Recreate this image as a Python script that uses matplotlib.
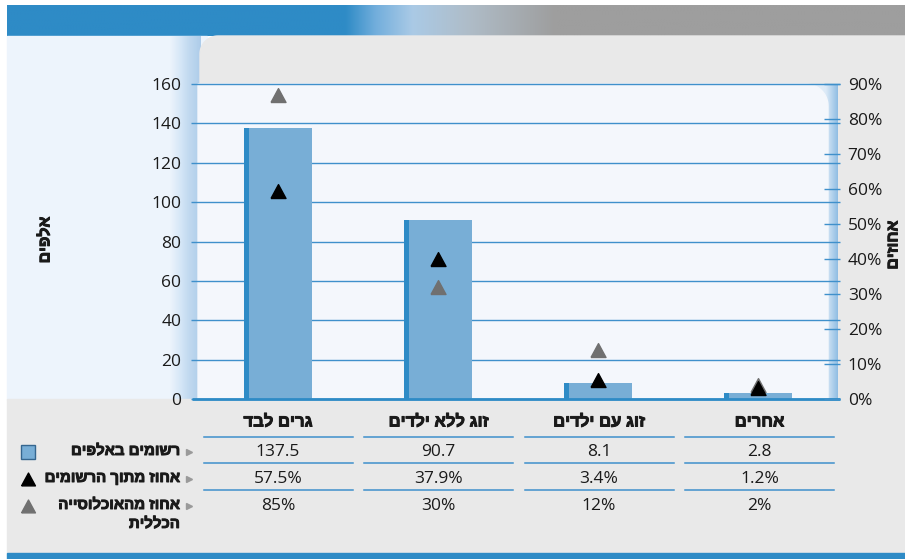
import numpy as np
import matplotlib.pyplot as plt
import matplotlib.patheffects as pe
from matplotlib.patches import Rectangle, Polygon
from matplotlib.colors import to_rgb

# data
categories = ["גרים לבד", "זוג ללא ילדים", "זוג עם ילדים", "אחרים"]
registered_k = [137.5, 90.7, 8.1, 2.8]          # bars, thousands
pct_of_registered = [57.5, 37.9, 3.4, 1.2]      # black triangles, %
pct_of_population = [85, 30, 12, 2]             # grey triangles, %
row_labels = ["רשומים באלפים", "אחוז מתוך הרשומים", "אחוז מהאוכלוסייה\nהכללית"]
left_ticks = [0, 20, 40, 60, 80, 100, 120, 140, 160]
right_ticks = [0, 10, 20, 30, 40, 50, 60, 70, 80, 90]
left_title = "אלפים"
right_title = "אחוזים"

BLUE = "#2E8BC6"
BAR = "#78AED6"
GRID = "#3F90CB"
GREY_TRI = "#707070"
TXT = "#1A1A1A"
NUM_FONT = ["Open Sans", "DejaVu Sans"]
HEB_FONT = ["Liberation Sans", "DejaVu Sans"]
BOLDER = [pe.withStroke(linewidth=0.7, foreground=TXT)]

# triangle whose base sits on the value
TRI_UP = [(-1, 0), (1, 0), (0, 1.85), (-1, 0)]
TRI_MID = [(-1, -0.92), (1, -0.92), (0, 0.93), (-1, -0.92)]


def heb(s):
    # matplotlib has no bidi, so flip each line to visual order
    return "\n".join(line[::-1] for line in s.split("\n"))


def hgrad(ax, x0, x1, y0, y1, stops, z):
    xs = np.linspace(x0, x1, 300)
    pos = [s[0] for s in stops]
    cols = np.array([np.interp(xs, pos, [to_rgb(s[1])[k] for s in stops]) for k in range(3)]).T
    ax.imshow(cols[None, :, :], extent=(x0, x1, y1, y0), aspect="auto",
              interpolation="bilinear", zorder=z)


fig = plt.figure(figsize=(9.05, 5.59), dpi=100)

# ---- background, in pixel coords ----
bg = fig.add_axes([0, 0, 1, 1], zorder=0)
bg.axis("off")

# header band
hgrad(bg, 7, 905, 5, 36, [(7, BLUE), (345, BLUE), (375, "#72AEDC"), (412, "#AACAE6"),
                          (470, "#AFBCC7"), (555, "#9E9E9E"), (905, "#9E9E9E")], 1)
# left light blue area and left wall
bg.add_patch(Rectangle((7, 36), 200, 364, color="#EDF4FC", zorder=1))
hgrad(bg, 170, 200, 36, 399, [(170, "#EDF4FC"), (180, "#D6E7F7"), (188, "#C2DAF0"),
                              (200, "#ADCCE9")], 2)
# grey panel with rounded top-left corner
r = 18
t = np.linspace(0, np.pi / 2, 20)
cx, cy = 200 + r, 36 + r
arc = np.column_stack([cx - r * np.cos(t), cy - r * np.sin(t)])
panel = np.vstack([[[200, 420]], arc, [[905, 36], [905, 420]]])
bg.add_patch(Polygon(panel, closed=True, color="#E9E9E9", zorder=3))
# table area and bottom band
bg.add_patch(Rectangle((7, 399), 898, 154, color="#E9E9E9", zorder=3))
bg.add_patch(Rectangle((7, 553), 898, 6, color=BLUE, zorder=3))

# inner plot area: right wall gradient + light panel with rounded top-right corner
hgrad(bg, 800, 838, 84, 399, [(800, "#F4F7FC"), (826, "#DCEAF7"), (838, "#8FBDE3")], 4)
r2 = 22
cx2, cy2 = 828 - r2, 84 + r2
arc2 = np.column_stack([cx2 + r2 * np.cos(t[::-1]), cy2 - r2 * np.sin(t[::-1])])
inner = np.vstack([[[198, 399], [198, 84]], arc2, [[828, 399]]])
bg.add_patch(Polygon(inner, closed=True, color="#F4F7FC", zorder=5))

bg.set_xlim(0, 905)
bg.set_ylim(559, 0)

# ---- chart ----
ax = fig.add_axes([198 / 905, 160 / 559, 640 / 905, 315 / 559], zorder=2)
ax.patch.set_visible(False)
x = np.arange(len(categories))
ax.set_xlim(-0.5, len(categories) - 0.5)
ax.set_ylim(0, 160)

ytr = ax.get_yaxis_transform()
ax.hlines(left_ticks, -7 / 640, 1 + 2 / 640, transform=ytr, colors=GRID, lw=1.0,
          clip_on=False, zorder=1)
ax.hlines([0], -6 / 640, 1 + 2 / 640, transform=ytr, colors=BLUE, lw=2.0,
          clip_on=False, zorder=4)

side, total = 0.031, 0.419
ax.bar(x - total / 2, registered_k, width=side, align="edge", color=BLUE, zorder=2)
ax.bar(x - total / 2 + side, registered_k, width=total - side, align="edge",
       color=BAR, zorder=2)

ax.set_xticks([])
ax.set_yticks(left_ticks)
ax.set_yticklabels([str(v) for v in left_ticks], family=NUM_FONT, fontsize=12.5, color=TXT)
ax.tick_params(axis="y", length=0, pad=12)
for s in ax.spines.values():
    s.set_visible(False)

ax2 = ax.twinx()
ax2.set_ylim(0, 90)
ax2.patch.set_visible(False)
ax2.set_yticks(right_ticks)
ax2.set_yticklabels([f"{v}%" for v in right_ticks], family=NUM_FONT, fontsize=12.5, color=TXT)
ax2.tick_params(axis="y", length=0, pad=7)
ax2.hlines(right_ticks, 1 - 14 / 640, 1 + 2 / 640, transform=ax2.get_yaxis_transform(),
           colors=GRID, lw=1.0, clip_on=False, zorder=3)
for s in ax2.spines.values():
    s.set_visible(False)
ax2.plot(x, pct_of_population, ls="none", marker=TRI_UP, color=GREY_TRI, ms=20, zorder=5)
ax2.plot(x, pct_of_registered, ls="none", marker=TRI_UP, color="black", ms=20, zorder=6)

# axis titles
for xx, yy, lab in ((45, 240, left_title), (893, 245, right_title)):
    bg.text(xx, yy, heb(lab), rotation=90, ha="center", va="center", family=HEB_FONT,
            fontweight="bold", fontsize=11.5, color=TXT, zorder=10, path_effects=BOLDER)

# ---- table under the chart ----
col_c = [278 + 160.5 * i for i in range(len(categories))]
row_y = [452, 479, 506]
rows = [[f"{v:.1f}" for v in registered_k],
        [f"{v:.1f}%" for v in pct_of_registered],
        [f"{v:g}%" for v in pct_of_population]]
for c, name in zip(col_c, categories):
    bg.text(c, 422, heb(name), ha="center", va="center", family=HEB_FONT,
            fontweight="bold", fontsize=12, color=TXT, zorder=10, path_effects=BOLDER)
    for ly in (437, 463, 490):
        bg.plot([c - 74.5, c + 74.5], [ly, ly], color=GRID, lw=1.1, zorder=10)
for ry, vals in zip(row_y, rows):
    for c, v in zip(col_c, vals):
        bg.text(c, ry, v, ha="center", va="center", family=NUM_FONT,
                fontsize=12.5, color=TXT, zorder=10)

for ry, lab in zip(row_y, row_labels):
    bg.text(180, ry - 8, heb(lab), ha="right", va="top", ma="right", linespacing=1.45,
            family=HEB_FONT, fontweight="bold", fontsize=10.8, color=TXT, zorder=10,
            path_effects=BOLDER)
    bg.plot(189, ry, ">", color="#9A9A9A", ms=5, zorder=10)

bg.plot(28, row_y[0], "s", color=BAR, mec="#35668F", mew=1.0, ms=9.5, zorder=10)
bg.plot(28, row_y[1], ls="none", marker=TRI_MID, color="black", ms=10, zorder=10)
bg.plot(28, row_y[2], ls="none", marker=TRI_MID, color=GREY_TRI, ms=10, zorder=10)

bg.set_xlim(0, 905)
bg.set_ylim(559, 0)

fig.savefig("out.png", dpi=100, facecolor="white")
